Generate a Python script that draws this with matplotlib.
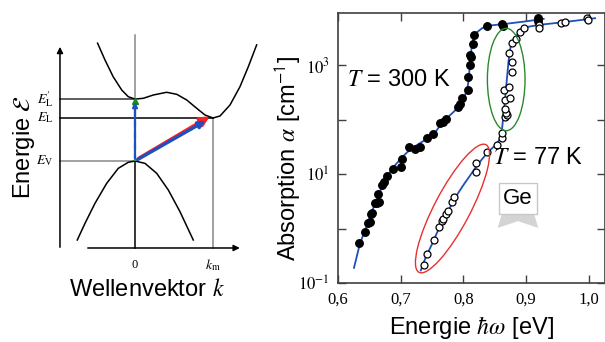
import numpy as np
import matplotlib.pyplot as plt
from matplotlib.patches import Ellipse, Rectangle, Polygon

plt.rcParams['font.family'] = ['Liberation Sans', 'DejaVu Sans']
plt.rcParams['mathtext.fontset'] = 'stix'

# ---- left panel: schematic band structure (k in units of k_m, energy in units of E_L - E_V)
cb_k = [-0.48, -0.385, -0.28, -0.17, -0.086, 0.0, 0.106, 0.235, 0.406, 0.535,
        0.663, 0.791, 0.897, 1.0, 1.09, 1.218, 1.346, 1.453, 1.56]
cb_e = [2.74, 2.35, 1.96, 1.65, 1.495, 1.44, 1.458, 1.535, 1.598, 1.551,
        1.419, 1.226, 1.07, 1.0, 1.047, 1.302, 1.728, 2.193, 2.70]
vb_k = [-0.74, -0.641, -0.513, -0.363, -0.214, -0.086, 0.0, 0.128, 0.278, 0.427, 0.577, 0.747]
vb_e = [-1.837, -1.449, -0.984, -0.519, -0.17, -0.03, 0.0, -0.055, -0.286, -0.674, -1.179, -1.837]
E_V, E_L, E_L2, k_m = 0.0, 1.0, 1.44, 1.0

# ---- right panel: absorption of Ge
e_300 = [0.634, 0.6435, 0.6483, 0.651, 0.6526, 0.6547, 0.659, 0.6617, 0.6659, 0.6643,
         0.6697, 0.6738, 0.6786, 0.6882, 0.7005, 0.7016, 0.7137, 0.7228, 0.7308, 0.7424,
         0.752, 0.7627, 0.7679, 0.7718, 0.7919, 0.7946, 0.7973, 0.8069, 0.8078, 0.8105,
         0.8116, 0.8105, 0.8148, 0.8174, 0.8372, 0.8611, 0.8627, 0.9185, 0.9195]
a_300 = [0.548, 0.85, 1.245, 1.33, 1.82, 1.95, 2.9, 2.97, 3.03, 4.24,
         6.29, 7.04, 9.19, 12.2, 13.6, 18.6, 31.7, 28.8, 31.7, 45.2,
         54.2, 85.2, 91.1, 105, 172, 198, 245, 358, 610, 1000,
         1420, 1570, 2500, 3660, 5200, 5830, 5200, 7500, 6500]
e_77 = [0.7376, 0.7424, 0.7531, 0.7606, 0.7663, 0.7679, 0.7718, 0.775, 0.7823, 0.7855,
        0.8201, 0.8201, 0.8372, 0.8541, 0.8611, 0.862, 0.8663, 0.8691, 0.8679, 0.8668,
        0.8663, 0.8743, 0.8648, 0.8732, 0.877, 0.878, 0.8727, 0.878, 0.8834, 0.8903,
        0.8971, 0.9211, 0.9211, 0.9557, 0.962, 0.9967, 0.9992]
a_77 = [0.211, 0.336, 0.607, 1.05, 1.39, 1.47, 1.87, 2.12, 3.03, 3.73,
        11.0, 15.7, 25.0, 34.0, 45.2, 55.8, 112, 121, 130, 156,
        228, 255, 358, 400, 753, 1150, 1680, 2570, 3090, 4080,
        4920, 5420, 4830, 5970, 6230, 7500, 6700]

fit300_e = [0.6255, 0.635, 0.645, 0.653, 0.663, 0.6745, 0.686, 0.698, 0.71, 0.722,
            0.737, 0.754, 0.765, 0.775, 0.79, 0.80, 0.806, 0.808, 0.810, 0.812,
            0.8135, 0.816, 0.82, 0.83, 0.845, 0.87, 0.90, 0.928]
fit300_a = [0.19, 0.53, 1.05, 1.9, 3.8, 7.5, 12.5, 18, 25, 32,
            41, 56, 85, 110, 160, 240, 350, 500, 900, 1600,
            2400, 3200, 3900, 4800, 5400, 5800, 6400, 7100]
fit77_e = [0.732, 0.74, 0.75, 0.76, 0.77, 0.78, 0.79, 0.80, 0.81, 0.82,
           0.83, 0.84, 0.85, 0.857, 0.861, 0.865, 0.868, 0.872, 0.875, 0.88,
           0.89, 0.90, 0.92, 0.95, 0.98, 1.01]
fit77_a = [0.17, 0.30, 0.52, 0.95, 1.6, 2.6, 4.2, 6.3, 9.2, 13.5,
           19, 26, 33, 42, 58, 160, 380, 1200, 2100, 3000,
           4200, 5000, 5500, 6000, 6600, 7300]

xticks = [0.6, 0.7, 0.8, 0.9, 1.0]
xticklabels = ['0,6', '0,7', '0,8', '0,9', '1,0']
yticks = [0.1, 1, 10, 100, 1000]
yticklabels = ['$10^{-1}$', '', '$10^{1}$', '', '$10^{3}$']

fig = plt.figure(figsize=(6.05, 3.42), dpi=100)

# ================= left panel
ax0 = fig.add_axes([0, 0, 270 / 605, 1])
ax0.set_xlim(-1.731, 1.731)
ax0.set_ylim(-4.209, 3.744)
ax0.axis('off')

y_ax, x_ax = -0.962, -2.023
ax0.annotate('', xy=(y_ax, 2.72), xytext=(y_ax, -2.07),
             arrowprops=dict(arrowstyle='-|>', color='black', lw=1.1, mutation_scale=9))
ax0.annotate('', xy=(1.38, x_ax), xytext=(-0.641, x_ax),
             arrowprops=dict(arrowstyle='-|>', color='black', lw=1.1, mutation_scale=9))

ax0.plot([0, 0], [E_L2, 2.93], color='#888888', lw=1.1)
ax0.plot([0, 0], [x_ax, E_L2], color='black', lw=1.1)
ax0.plot([k_m, k_m], [x_ax, E_L], color='#888888', lw=1.1)
ax0.plot([y_ax, 0], [E_L2, E_L2], color='#333333', lw=1.1)
ax0.plot([y_ax, k_m], [E_L, E_L], color='black', lw=1.1)
ax0.plot([y_ax, 0], [E_V, E_V], color='#888888', lw=1.1)

ax0.plot(cb_k, cb_e, color='black', lw=1.1)
ax0.plot(vb_k, vb_e, color='black', lw=1.1)

# transitions
ax0.annotate('', xy=(0.99, 1.07), xytext=(0.015, 0.025),
             arrowprops=dict(arrowstyle='-|>', color='#ff2020', lw=2.6, mutation_scale=13))
ax0.annotate('', xy=(0.94, 0.97), xytext=(0.0, 0.0),
             arrowprops=dict(arrowstyle='-|>', color='#2050c0', lw=2.4, mutation_scale=10))
ax0.annotate('', xy=(0, E_L2), xytext=(0, E_V),
             arrowprops=dict(arrowstyle='-|>', color='#2050c0', lw=1.6, mutation_scale=7))
ax0.plot([0, 0], [E_V, E_L2 - 0.08], color='#22aa22', lw=1.6, ls=(0, (3, 2)))
ax0.plot([0], [E_L2 - 0.04], marker='^', color='#1a8a1a', ms=4)

lab = dict(fontsize=10, ha='right', va='center')
ax0.text(-1.05, E_L2, r"$E_{\mathrm{L}}^{\prime}$", **lab)
ax0.text(-1.05, E_L, r"$E_{\mathrm{L}}$", **lab)
ax0.text(-1.05, E_V, r"$E_{\mathrm{V}}$", **lab)
ax0.text(0, -2.42, '0', family=['Liberation Serif'], fontsize=9, ha='center', va='center')
ax0.text(k_m, -2.42, r'$k_{\mathrm{m}}$', fontsize=10, ha='center', va='center')
ax0.text(0.15, -3.0, r'Wellenvektor $\mathit{k}$', fontsize=17, ha='center', va='center')
ax0.text(-1.42, 0.33, r'Energie $\mathcal{E}$', fontsize=17, ha='center', va='center',
         rotation=90)

# ================= right panel
ax = fig.add_axes([338 / 605, 1 - 283 / 342, 267 / 605, 270 / 342])
ax.set_yscale('log')
ax.set_xlim(0.6, 1.0258)
ax.set_ylim(0.1, 9100)

ax.plot(fit300_e, fit300_a, color='#1f4fb8', lw=1.3, zorder=2)
ax.plot(fit77_e, fit77_a, color='#1f4fb8', lw=1.3, zorder=2)
ax.plot(e_300, a_300, 'o', color='black', ms=5.4, zorder=3)
ax.plot(e_77, a_77, 'o', mfc='white', mec='black', mew=0.9, ms=5, zorder=3)

ax.add_patch(Ellipse((0.630, 0.7537), 0.141, 0.379, transform=ax.transAxes,
                     fill=False, ec='#2a8a2a', lw=1.0, zorder=4))
ax.add_patch(Ellipse((0.4288, 0.2759), 0.535, 0.134, angle=62, transform=ax.transAxes,
                     fill=False, ec='#e83030', lw=1.0, zorder=4))

ax.text(0.032, 0.752, r'$T$ = 300 K', transform=ax.transAxes, fontsize=17,
        ha='left', va='center')
ax.text(0.58, 0.463, r'$T$ = 77 K', transform=ax.transAxes, fontsize=17,
        ha='left', va='center')

# Ge label box with a soft shadow
x0, x1, y0, y1 = 0.603, 0.745, 0.254, 0.371
ax.add_patch(Polygon([(x0 - 0.005, y0 - 0.05), (x0 + 0.01, y0), (x1 - 0.01, y0),
                      (x1 + 0.005, y0 - 0.05), ((x0 + x1) / 2, y0 - 0.025)],
                     closed=True, transform=ax.transAxes, fc='#d4d4d4', ec='none',
                     zorder=4))
ax.add_patch(Rectangle((x0, y0), x1 - x0, y1 - y0, transform=ax.transAxes,
                       fc='white', ec='#c8c8c8', lw=1.0, zorder=5))
ax.text((x0 + x1) / 2, (y0 + y1) / 2, 'Ge', transform=ax.transAxes, fontsize=16,
        ha='center', va='center', zorder=6)

ax.set_xticks(xticks)
ax.set_xticklabels(xticklabels, family=['Liberation Serif', 'DejaVu Serif'], fontsize=12)
ax.set_yticks(yticks)
ax.set_yticklabels(yticklabels, fontsize=12)
ax.minorticks_off()
ax.tick_params(direction='in', length=6, width=1.0, color='#404040',
               top=True, right=True, pad=6)
for s in ax.spines.values():
    s.set_color('#404040')
    s.set_linewidth(1.2)

ax.set_xlabel(r'Energie $\hbar\omega$ [eV]', fontsize=17, labelpad=5)
ax.set_ylabel(r'Absorption $\alpha$ [cm$^{\mathsf{-1}}$]', fontsize=17)
ax.yaxis.set_label_coords(-0.131, 0.46)

plt.savefig('out.png', dpi=100)
